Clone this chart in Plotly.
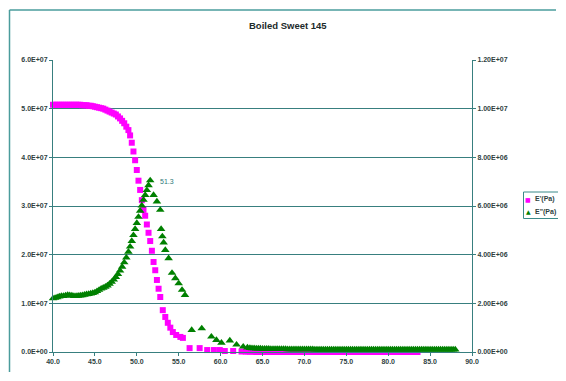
import plotly.graph_objects as go

title_text = "Boiled Sweet 145"
name_storage = "E'(Pa)"
name_loss = 'E"(Pa)'
peak_label = "51.3"

# E' (storage modulus, left axis)
storage_temp = [40.0, 40.25, 40.5, 40.75, 41.0, 41.25, 41.5, 41.75, 42.0, 42.25, 42.5, 42.75,
                43.0, 43.25, 43.5, 43.75, 44.0, 44.25, 44.5, 44.75, 45.0, 45.25, 45.5, 45.75,
                46.0, 46.25, 46.5, 46.75, 47.0, 47.25, 47.5, 47.75, 48.0, 48.25, 48.5, 48.75,
                49.0, 49.2, 49.4, 49.6, 49.8, 50.0, 50.2, 50.4, 50.6, 50.8, 51.0, 51.2, 51.4,
                51.6, 51.8, 52.0, 52.2, 52.4, 52.6, 52.8, 53.1, 53.4, 53.7, 54.0, 54.3, 54.7,
                55.2, 55.5, 56.3, 57.5, 58.4, 59.2, 59.9, 60.5, 61.5, 62.5,
                63.0, 63.25, 63.5, 63.75, 64.0, 64.25, 64.5, 64.75, 65.0, 65.25, 65.5, 65.75,
                66.0, 66.25, 66.5, 66.75, 67.0, 67.25, 67.5, 67.75, 68.0, 68.25, 68.5, 68.75,
                69.0, 69.25, 69.5, 69.75, 70.0, 70.25, 70.5, 70.75, 71.0, 71.25, 71.5, 71.75,
                72.0, 72.25, 72.5, 72.75, 73.0, 73.25, 73.5, 73.75, 74.0, 74.25, 74.5, 74.75,
                75.0, 75.25, 75.5, 75.75, 76.0, 76.25, 76.5, 76.75, 77.0, 77.25, 77.5, 77.75,
                78.0, 78.25, 78.5, 78.75, 79.0, 79.25, 79.5, 79.75, 80.0, 80.25, 80.5, 80.75,
                81.0, 81.25, 81.5, 81.75, 82.0, 82.25, 82.5, 82.75, 83.0, 83.25, 83.5]
storage_pa = [5.08e7, 5.08e7, 5.08e7, 5.08e7, 5.08e7, 5.08e7, 5.08e7, 5.08e7, 5.08e7, 5.08e7, 5.08e7, 5.08e7,
              5.08e7, 5.08e7, 5.07e7, 5.07e7, 5.07e7, 5.06e7, 5.06e7, 5.05e7, 5.04e7, 5.03e7, 5.02e7, 5.01e7,
              5.00e7, 4.98e7, 4.96e7, 4.94e7, 4.92e7, 4.90e7, 4.88e7, 4.84e7, 4.80e7, 4.75e7, 4.70e7, 4.63e7,
              4.56e7, 4.45e7, 4.30e7, 4.12e7, 3.94e7, 3.74e7, 3.52e7, 3.33e7, 3.12e7, 2.92e7, 2.80e7, 2.62e7, 2.45e7,
              2.28e7, 2.08e7, 1.85e7, 1.68e7, 1.48e7, 1.30e7, 1.13e7, 0.86e7, 0.72e7, 0.60e7, 0.50e7, 0.41e7, 0.35e7,
              0.31e7, 0.29e7, 0.08e7, 0.08e7, 0.04e7, 0.04e7, 0.04e7, 0.02e7, 0.02e7, 0.01e7,
              0.01e7, 0.01e7, 0.01e7, 0.01e7, 0.01e7, 0.0, 0.0, 0.0, 0.0, 0.0, 0.0, 0.0,
              0.0, 0.0, 0.0, 0.0, 0.0, 0.0, 0.0, 0.0, 0.0, 0.0, 0.0, 0.0,
              0.0, 0.0, 0.0, 0.0, 0.0, 0.0, 0.0, 0.0, 0.0, 0.0, 0.0, 0.0,
              0.0, 0.0, 0.0, 0.0, 0.0, 0.0, 0.0, 0.0, 0.0, 0.0, 0.0, 0.0,
              0.0, 0.0, 0.0, 0.0, 0.0, 0.0, 0.0, 0.0, 0.0, 0.0, 0.0, 0.0,
              0.0, 0.0, 0.0, 0.0, 0.0, 0.0, 0.0, 0.0, 0.0, 0.0, 0.0, 0.0,
              0.0, 0.0, 0.0, 0.0, 0.0, 0.0, 0.0, 0.0, 0.0, 0.0, 0.0]

# E" (loss modulus, right axis)
loss_temp = [40.0, 40.25, 40.5, 40.75, 41.0, 41.25, 41.5, 41.75, 42.0, 42.25, 42.5, 42.75,
             43.0, 43.25, 43.5, 43.75, 44.0, 44.25, 44.5, 44.75, 45.0, 45.25, 45.5, 45.75,
             46.0, 46.25, 46.5, 46.75, 47.0, 47.25, 47.5, 47.75, 48.0, 48.25, 48.5, 48.75,
             49.0, 49.2, 49.4, 49.6, 49.8, 50.0, 50.2, 50.4, 50.6, 50.8, 51.0, 51.2, 51.4, 51.6,
             52.0, 52.4, 52.8, 52.9, 53.05, 53.2, 53.4, 53.8, 54.2, 54.6, 55.0, 55.4, 55.75,
             56.55, 57.75, 58.9, 59.5, 60.1, 61.1, 61.9, 62.7, 63.2,
             63.5, 63.75, 64.0, 64.25, 64.5, 64.75, 65.0, 65.25, 65.5, 65.75, 66.0, 66.25,
             66.5, 66.75, 67.0, 67.25, 67.5, 67.75, 68.0, 68.25, 68.5, 68.75, 69.0, 69.25,
             69.5, 69.75, 70.0, 70.25, 70.5, 70.75, 71.0, 71.25, 71.5, 71.75, 72.0, 72.25,
             72.5, 72.75, 73.0, 73.25, 73.5, 73.75, 74.0, 74.25, 74.5, 74.75, 75.0, 75.25,
             75.5, 75.75, 76.0, 76.25, 76.5, 76.75, 77.0, 77.25, 77.5, 77.75, 78.0, 78.25,
             78.5, 78.75, 79.0, 79.25, 79.5, 79.75, 80.0, 80.25, 80.5, 80.75, 81.0, 81.25,
             81.5, 81.75, 82.0, 82.25, 82.5, 82.75, 83.0, 83.25, 83.5, 83.75, 84.0, 84.25,
             84.5, 84.75, 85.0, 85.25, 85.5, 85.75, 86.0, 86.25, 86.5, 86.75, 87.0, 87.25,
             87.5, 87.75, 88.0]
loss_pa = [2.20e6, 2.22e6, 2.25e6, 2.28e6, 2.30e6, 2.30e6, 2.32e6, 2.34e6, 2.33e6, 2.32e6, 2.30e6, 2.30e6,
           2.31e6, 2.32e6, 2.33e6, 2.35e6, 2.37e6, 2.38e6, 2.40e6, 2.42e6, 2.45e6, 2.50e6, 2.55e6, 2.60e6,
           2.64e6, 2.68e6, 2.73e6, 2.80e6, 2.88e6, 2.97e6, 3.08e6, 3.20e6, 3.34e6, 3.50e6, 3.68e6, 3.88e6,
           4.12e6, 4.33e6, 4.56e6, 4.80e6, 5.05e6, 5.30e6, 5.55e6, 5.80e6, 6.02e6, 6.25e6, 6.45e6, 6.65e6, 6.85e6, 7.05e6,
           6.45e6, 6.18e6, 5.84e6, 5.05e6, 4.75e6, 4.50e6, 4.19e6, 3.85e6, 3.25e6, 3.03e6, 2.82e6, 2.55e6, 2.34e6,
           0.90e6, 0.97e6, 0.63e6, 0.49e6, 0.38e6, 0.47e6, 0.30e6, 0.22e6, 0.18e6,
           0.16e6, 0.15e6, 0.15e6, 0.14e6, 0.14e6, 0.14e6, 0.13e6, 0.13e6, 0.13e6, 0.13e6, 0.12e6, 0.12e6,
           0.12e6, 0.12e6, 0.12e6, 0.12e6, 0.12e6, 0.12e6, 0.11e6, 0.11e6, 0.11e6, 0.11e6, 0.11e6, 0.11e6,
           0.11e6, 0.11e6, 0.11e6, 0.11e6, 0.11e6, 0.11e6, 0.11e6, 0.10e6, 0.10e6, 0.10e6, 0.10e6, 0.10e6,
           0.10e6, 0.10e6, 0.10e6, 0.10e6, 0.10e6, 0.10e6, 0.10e6, 0.10e6, 0.10e6, 0.10e6, 0.10e6, 0.10e6,
           0.10e6, 0.10e6, 0.10e6, 0.10e6, 0.10e6, 0.10e6, 0.10e6, 0.10e6, 0.10e6, 0.10e6, 0.10e6, 0.10e6,
           0.10e6, 0.10e6, 0.10e6, 0.10e6, 0.10e6, 0.10e6, 0.10e6, 0.10e6, 0.10e6, 0.10e6, 0.10e6, 0.10e6,
           0.10e6, 0.10e6, 0.10e6, 0.10e6, 0.10e6, 0.10e6, 0.10e6, 0.10e6, 0.10e6, 0.10e6, 0.10e6, 0.10e6,
           0.10e6, 0.10e6, 0.10e6, 0.10e6, 0.10e6, 0.10e6, 0.10e6, 0.10e6, 0.10e6, 0.10e6, 0.10e6, 0.10e6,
           0.10e6, 0.10e6, 0.10e6]
peak_temp = 51.6
peak_pa = 7.05e6

x_ticks = [40, 45, 50, 55, 60, 65, 70, 75, 80, 85, 90]
x_tick_labels = ["40.0", "45.0", "50.0", "55.0", "60.0", "65.0", "70.0", "75.0", "80.0", "85.0", "90.0"]
left_ticks = [0, 1e7, 2e7, 3e7, 4e7, 5e7, 6e7]
left_tick_labels = ["0.0E+00", "1.0E+07", "2.0E+07", "3.0E+07", "4.0E+07", "5.0E+07", "6.0E+07"]
right_ticks = [0, 2e6, 4e6, 6e6, 8e6, 1e7, 1.2e7]
right_tick_labels = ["0.00E+00", "2.00E+06", "4.00E+06", "6.00E+06", "8.00E+06", "1.00E+07", "1.20E+07"]

MAGENTA = "#ff00ff"
GREEN = "#008000"
TEAL = "#387f7f"
LABEL = "#2f3f3f"
FONT = "Liberation Sans, Arial, sans-serif"

# the page places the figure 8px from the top-left corner
OFF = 8
W, H = 566 - OFF, 381 - OFF
# plot area geometry in (window) pixels
L, R, T, B = 53, 472, 60, 352
PW, PH = R - L, B - T


def px(x):
    return (x - L) / PW


def py(y):
    return (B - y) / PH


fig = go.Figure()
fig.add_trace(go.Scatter(
    x=storage_temp, y=storage_pa, mode="markers", name=name_storage,
    marker=dict(symbol="square", size=6, color=MAGENTA, line=dict(width=0)),
    cliponaxis=False, yaxis="y", showlegend=False))
fig.add_trace(go.Scatter(
    x=loss_temp, y=loss_pa, mode="markers", name=name_loss,
    marker=dict(symbol="triangle-up", size=7.5, color=GREEN, line=dict(width=0)),
    cliponaxis=False, yaxis="y2", showlegend=False))

tickfont = dict(family=FONT, size=7, color=LABEL, weight="bold")

fig.update_layout(
    width=W, height=H,
    margin=dict(l=L - OFF, r=W + OFF - R, t=T - OFF, b=H + OFF - B, pad=0),
    paper_bgcolor="white", plot_bgcolor="white",
    showlegend=False,
    xaxis=dict(range=[40, 90], tickvals=x_ticks, ticktext=x_tick_labels,
               showgrid=False, zeroline=False, showline=True, linecolor=TEAL, linewidth=1,
               ticks="outside", ticklen=3, tickcolor=TEAL, tickfont=tickfont),
    yaxis=dict(range=[0, 6e7], tickvals=left_ticks, ticktext=left_tick_labels,
               showgrid=True, gridcolor=TEAL, gridwidth=1, zeroline=False,
               showline=True, linecolor=TEAL, linewidth=1,
               ticks="outside", ticklen=3, tickcolor=TEAL, tickfont=tickfont),
    yaxis2=dict(range=[0, 1.2e7], tickvals=right_ticks, ticktext=right_tick_labels,
                overlaying="y", side="right", showgrid=False, zeroline=False,
                showline=True, linecolor=TEAL, linewidth=1,
                ticks="outside", ticklen=3, tickcolor=TEAL, tickfont=tickfont),
)

FRAME = dict(color="#4a9c9c", width=1.5)
shapes = [
    # outer chart frame (top and left edges)
    dict(type="line", xref="paper", yref="paper", x0=px(9.5), x1=px(556), y0=py(10), y1=py(10),
         line=FRAME, layer="below"),
    dict(type="line", xref="paper", yref="paper", x0=px(9.5), x1=px(9.5), y0=py(10), y1=py(372),
         line=FRAME, layer="below"),
    # legend box
    dict(type="rect", xref="paper", yref="paper", x0=px(523.5), x1=px(580), y0=py(192), y1=py(218.5),
         line=dict(color="#3a8a8a", width=1), fillcolor="white"),
]

annotations = [
    dict(text=title_text, xref="paper", yref="paper", x=px(288), y=py(25.5),
         showarrow=False, xanchor="center", yanchor="middle",
         font=dict(family=FONT, size=9.5, color="#1c2a2a", weight="bold")),
    dict(text=peak_label, x=peak_temp, y=peak_pa, xref="x", yref="y2", showarrow=False,
         xanchor="left", yanchor="middle", xshift=8, yshift=-1,
         font=dict(family=FONT, size=7, color="#2f7a7a")),
    # legend entries
    dict(text="■", xref="paper", yref="paper", x=px(528), y=py(199), showarrow=False,
         xanchor="center", yanchor="middle", font=dict(family="DejaVu Sans", size=6, color=MAGENTA)),
    dict(text=name_storage, xref="paper", yref="paper", x=px(532.5), y=py(199), showarrow=False,
         xanchor="left", yanchor="middle", font=dict(family=FONT, size=7, color=LABEL, weight="bold")),
    dict(text="▲", xref="paper", yref="paper", x=px(528), y=py(211.5), showarrow=False,
         xanchor="center", yanchor="middle", font=dict(family="DejaVu Sans", size=6, color=GREEN)),
    dict(text=name_loss, xref="paper", yref="paper", x=px(532.5), y=py(211.5), showarrow=False,
         xanchor="left", yanchor="middle", font=dict(family=FONT, size=7, color=LABEL, weight="bold")),
]

fig.update_layout(shapes=shapes, annotations=annotations)
fig.write_html("out.html")
